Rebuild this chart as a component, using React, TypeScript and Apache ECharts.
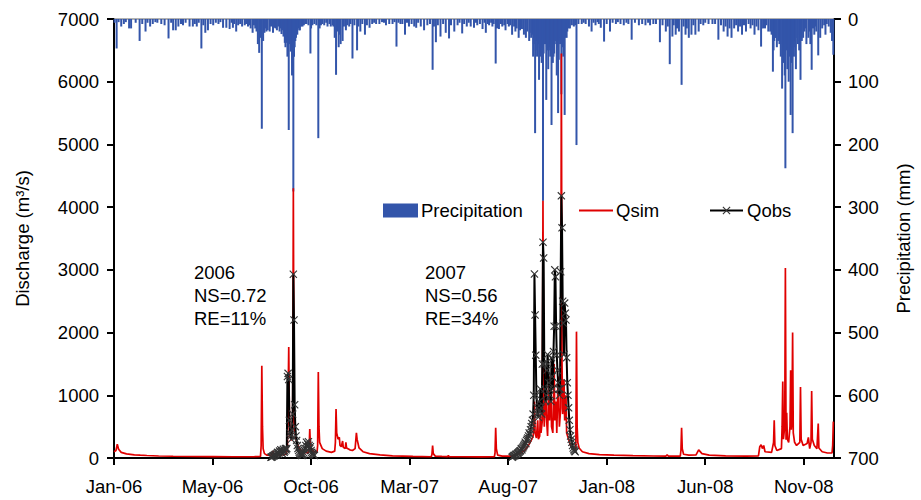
import React, { useEffect, useRef } from "react";
import * as echarts from "echarts";

// ---------- data ----------
const tickLabels = ["Jan-06", "May-06", "Oct-06", "Mar-07", "Aug-07", "Jan-08", "Jun-08", "Nov-08"];
const TICK_STEP_DAYS = 150;
const AXIS_START = Date.UTC(2006, 0, 1);
const AXIS_END_DAY = 1096;

const precipitation: [string, number][] = [
  ["2006-01-02", 6], ["2006-01-05", 47], ["2006-01-08", 5], ["2006-01-12", 12], ["2006-01-16", 8],
  ["2006-01-19", 5], ["2006-01-24", 15], ["2006-01-27", 15], ["2006-02-03", 6], ["2006-02-09", 35],
  ["2006-02-13", 8], ["2006-02-18", 20], ["2006-02-21", 6], ["2006-02-25", 12], ["2006-03-01", 8],
  ["2006-03-05", 5], ["2006-03-08", 6], ["2006-03-14", 8], ["2006-03-19", 10], ["2006-03-25", 31],
  ["2006-03-29", 6], ["2006-04-01", 18], ["2006-04-05", 18], ["2006-04-09", 12], ["2006-04-13", 8],
  ["2006-04-16", 10], ["2006-04-20", 6], ["2006-04-26", 12], ["2006-05-01", 12], ["2006-05-04", 8],
  ["2006-05-07", 12], ["2006-05-10", 6], ["2006-05-14", 47], ["2006-05-17", 10], ["2006-05-20", 22],
  ["2006-05-24", 18], ["2006-05-28", 8], ["2006-06-01", 10], ["2006-06-05", 6], ["2006-06-09", 8],
  ["2006-06-12", 5], ["2006-06-16", 14], ["2006-06-21", 14], ["2006-06-26", 16], ["2006-06-29", 6],
  ["2006-07-01", 14], ["2006-07-03", 8], ["2006-07-06", 20], ["2006-07-09", 10], ["2006-07-12", 8],
  ["2006-07-15", 12], ["2006-07-19", 10], ["2006-07-21", 8], ["2006-07-24", 12], ["2006-07-26", 10],
  ["2006-07-28", 15], ["2006-07-31", 22], ["2006-08-02", 10], ["2006-08-04", 15], ["2006-08-06", 20],
  ["2006-08-08", 40], ["2006-08-10", 54], ["2006-08-12", 30], ["2006-08-14", 175], ["2006-08-16", 35],
  ["2006-08-18", 22], ["2006-08-19", 15], ["2006-08-21", 20], ["2006-08-23", 18], ["2006-08-26", 20],
  ["2006-08-28", 12], ["2006-08-31", 22], ["2006-09-02", 14], ["2006-09-04", 15], ["2006-09-06", 18],
  ["2006-09-08", 12], ["2006-09-10", 20], ["2006-09-11", 15], ["2006-09-13", 24], ["2006-09-15", 18],
  ["2006-09-16", 28], ["2006-09-18", 38], ["2006-09-19", 45], ["2006-09-20", 25], ["2006-09-21", 38],
  ["2006-09-22", 60], ["2006-09-23", 30], ["2006-09-24", 177], ["2006-09-25", 40], ["2006-09-26", 35],
  ["2006-09-27", 52], ["2006-09-28", 45], ["2006-09-29", 90], ["2006-09-30", 70], ["2006-10-01", 275],
  ["2006-10-02", 60], ["2006-10-03", 45], ["2006-10-04", 35], ["2006-10-05", 30], ["2006-10-06", 20],
  ["2006-10-07", 25], ["2006-10-09", 15], ["2006-10-10", 18], ["2006-10-11", 18], ["2006-10-13", 12],
  ["2006-10-15", 12], ["2006-10-17", 10], ["2006-10-19", 8], ["2006-10-21", 8], ["2006-10-24", 10],
  ["2006-10-27", 55], ["2006-10-28", 15], ["2006-10-30", 10], ["2006-11-02", 8], ["2006-11-05", 10],
  ["2006-11-08", 190], ["2006-11-10", 15], ["2006-11-12", 10], ["2006-11-14", 8], ["2006-11-17", 10],
  ["2006-11-20", 6], ["2006-11-22", 12], ["2006-11-25", 8], ["2006-11-27", 12], ["2006-11-30", 10],
  ["2006-12-01", 12], ["2006-12-03", 30], ["2006-12-05", 89], ["2006-12-07", 20], ["2006-12-09", 45],
  ["2006-12-10", 25], ["2006-12-12", 40], ["2006-12-15", 35], ["2006-12-17", 12], ["2006-12-20", 18],
  ["2006-12-22", 10], ["2006-12-25", 12], ["2006-12-27", 8], ["2006-12-30", 63],
  ["2007-01-02", 10], ["2007-01-06", 50], ["2007-01-08", 12], ["2007-01-11", 20], ["2007-01-14", 8],
  ["2007-01-18", 25], ["2007-01-21", 10], ["2007-01-25", 14], ["2007-01-29", 8], ["2007-02-01", 6],
  ["2007-02-04", 8], ["2007-02-09", 8], ["2007-02-13", 5], ["2007-02-16", 6], ["2007-02-19", 10],
  ["2007-02-24", 8], ["2007-03-01", 8], ["2007-03-04", 5], ["2007-03-07", 44], ["2007-03-10", 6],
  ["2007-03-13", 8], ["2007-03-16", 8], ["2007-03-20", 25], ["2007-03-23", 6], ["2007-03-26", 12],
  ["2007-03-30", 8], ["2007-04-03", 12], ["2007-04-06", 14], ["2007-04-09", 6], ["2007-04-13", 12],
  ["2007-04-18", 18], ["2007-04-23", 10], ["2007-04-27", 8], ["2007-05-01", 81], ["2007-05-03", 12],
  ["2007-05-06", 37], ["2007-05-09", 10], ["2007-05-13", 28], ["2007-05-17", 8], ["2007-05-21", 22],
  ["2007-05-26", 31], ["2007-05-29", 10], ["2007-06-03", 20], ["2007-06-08", 10], ["2007-06-11", 6],
  ["2007-06-15", 23], ["2007-06-18", 8], ["2007-06-22", 12], ["2007-06-25", 6], ["2007-06-28", 12],
  ["2007-07-03", 14], ["2007-07-06", 6], ["2007-07-08", 10], ["2007-07-12", 8], ["2007-07-16", 16],
  ["2007-07-19", 6], ["2007-07-21", 22], ["2007-07-24", 8], ["2007-07-26", 10], ["2007-07-29", 6],
  ["2007-07-31", 12], ["2007-08-02", 8], ["2007-08-05", 71], ["2007-08-07", 15], ["2007-08-10", 16],
  ["2007-08-13", 8], ["2007-08-15", 12], ["2007-08-18", 10], ["2007-08-20", 18], ["2007-08-23", 8],
  ["2007-08-25", 12], ["2007-08-27", 10], ["2007-08-30", 25], ["2007-09-02", 12], ["2007-09-04", 20],
  ["2007-09-06", 15], ["2007-09-09", 30], ["2007-09-11", 18], ["2007-09-14", 16], ["2007-09-17", 25],
  ["2007-09-20", 30], ["2007-09-22", 20], ["2007-09-25", 35], ["2007-09-26", 22], ["2007-09-28", 30],
  ["2007-09-30", 25], ["2007-10-01", 60], ["2007-10-02", 40], ["2007-10-03", 30], ["2007-10-04", 182],
  ["2007-10-05", 50], ["2007-10-06", 35], ["2007-10-07", 60], ["2007-10-08", 35], ["2007-10-09", 40],
  ["2007-10-10", 97], ["2007-10-11", 45], ["2007-10-12", 30], ["2007-10-13", 60], ["2007-10-14", 70],
  ["2007-10-15", 45], ["2007-10-16", 290], ["2007-10-17", 55], ["2007-10-18", 35], ["2007-10-19", 40],
  ["2007-10-20", 40], ["2007-10-21", 129], ["2007-10-22", 45], ["2007-10-23", 50], ["2007-10-24", 80],
  ["2007-10-25", 50], ["2007-10-26", 45], ["2007-10-27", 60], ["2007-10-28", 40], ["2007-10-29", 169],
  ["2007-10-30", 45], ["2007-10-31", 70], ["2007-11-01", 60], ["2007-11-02", 55], ["2007-11-03", 40],
  ["2007-11-04", 35], ["2007-11-05", 30], ["2007-11-06", 90], ["2007-11-07", 45], ["2007-11-08", 150],
  ["2007-11-09", 65], ["2007-11-10", 35], ["2007-11-11", 40], ["2007-11-12", 30], ["2007-11-13", 120],
  ["2007-11-14", 35], ["2007-11-15", 45], ["2007-11-16", 60], ["2007-11-17", 30], ["2007-11-18", 153],
  ["2007-11-19", 30], ["2007-11-20", 25], ["2007-11-21", 30], ["2007-11-22", 20], ["2007-11-24", 15],
  ["2007-11-26", 15], ["2007-11-29", 10], ["2007-12-02", 12], ["2007-12-04", 10], ["2007-12-06", 201],
  ["2007-12-09", 8], ["2007-12-14", 8], ["2007-12-17", 6], ["2007-12-20", 8], ["2007-12-25", 12],
  ["2007-12-29", 20],
  ["2008-01-01", 6], ["2008-01-04", 10], ["2008-01-07", 5], ["2008-01-09", 8], ["2008-01-12", 14],
  ["2008-01-17", 36], ["2008-01-21", 8], ["2008-01-26", 20], ["2008-01-30", 6], ["2008-02-04", 8],
  ["2008-02-07", 5], ["2008-02-11", 8], ["2008-02-16", 10], ["2008-02-20", 6], ["2008-02-23", 8],
  ["2008-02-28", 33], ["2008-03-04", 6], ["2008-03-10", 10], ["2008-03-15", 8], ["2008-03-20", 10],
  ["2008-03-24", 6], ["2008-03-27", 10], ["2008-04-01", 8], ["2008-04-05", 8], ["2008-04-11", 37],
  ["2008-04-15", 10], ["2008-04-20", 20], ["2008-04-23", 12], ["2008-04-26", 72], ["2008-04-30", 28],
  ["2008-05-02", 10], ["2008-05-05", 25], ["2008-05-07", 15], ["2008-05-10", 20], ["2008-05-14", 105],
  ["2008-05-17", 12], ["2008-05-20", 25], ["2008-05-22", 15], ["2008-05-25", 30], ["2008-05-29", 25],
  ["2008-06-01", 10], ["2008-06-04", 25], ["2008-06-09", 20], ["2008-06-12", 8], ["2008-06-16", 10],
  ["2008-06-19", 6], ["2008-06-24", 8], ["2008-06-30", 8], ["2008-07-04", 8], ["2008-07-09", 33],
  ["2008-07-13", 10], ["2008-07-17", 20], ["2008-07-20", 12], ["2008-07-23", 28], ["2008-07-26", 15],
  ["2008-07-29", 30], ["2008-08-02", 15], ["2008-08-05", 10], ["2008-08-08", 20], ["2008-08-11", 12],
  ["2008-08-14", 25], ["2008-08-17", 10], ["2008-08-20", 20], ["2008-08-24", 8], ["2008-08-27", 15],
  ["2008-08-30", 10], ["2008-09-02", 25], ["2008-09-05", 12], ["2008-09-08", 18], ["2008-09-12", 44],
  ["2008-09-15", 15], ["2008-09-18", 15], ["2008-09-20", 10], ["2008-09-23", 20], ["2008-09-26", 20],
  ["2008-09-28", 25], ["2008-09-30", 84], ["2008-10-01", 50], ["2008-10-02", 35], ["2008-10-03", 30],
  ["2008-10-04", 30], ["2008-10-06", 45], ["2008-10-08", 35], ["2008-10-09", 25], ["2008-10-10", 40],
  ["2008-10-11", 30], ["2008-10-12", 60], ["2008-10-14", 111], ["2008-10-15", 40], ["2008-10-16", 70],
  ["2008-10-18", 90], ["2008-10-19", 238], ["2008-10-20", 50], ["2008-10-21", 40], ["2008-10-22", 80],
  ["2008-10-23", 45], ["2008-10-24", 100], ["2008-10-25", 35], ["2008-10-26", 60], ["2008-10-27", 153],
  ["2008-10-28", 45], ["2008-10-29", 70], ["2008-10-30", 182], ["2008-10-31", 40], ["2008-11-01", 60],
  ["2008-11-02", 35], ["2008-11-03", 45], ["2008-11-04", 80], ["2008-11-06", 30], ["2008-11-07", 40],
  ["2008-11-09", 50], ["2008-11-10", 25], ["2008-11-11", 97], ["2008-11-13", 35], ["2008-11-15", 30],
  ["2008-11-17", 20], ["2008-11-19", 15], ["2008-11-20", 40], ["2008-11-23", 30], ["2008-11-25", 20],
  ["2008-11-26", 40], ["2008-11-28", 81], ["2008-11-30", 15], ["2008-12-02", 25], ["2008-12-04", 12],
  ["2008-12-05", 20], ["2008-12-08", 58], ["2008-12-11", 30], ["2008-12-14", 15], ["2008-12-17", 10],
  ["2008-12-19", 25], ["2008-12-21", 8], ["2008-12-24", 12], ["2008-12-27", 22], ["2008-12-29", 35],
  ["2008-12-31", 57],
];

const qsim: [string, number][] = [
  ["2006-01-01", 100], ["2006-01-04", 120], ["2006-01-06", 220], ["2006-01-08", 140], ["2006-01-12", 90],
  ["2006-01-20", 65], ["2006-02-01", 50], ["2006-02-10", 45], ["2006-02-20", 40], ["2006-03-10", 32],
  ["2006-04-01", 28], ["2006-05-01", 24], ["2006-06-01", 22], ["2006-07-01", 20], ["2006-08-01", 20],
  ["2006-08-12", 25], ["2006-08-13", 200], ["2006-08-14", 1470], ["2006-08-15", 500], ["2006-08-16", 150],
  ["2006-08-18", 70], ["2006-08-22", 45], ["2006-08-28", 40], ["2006-08-31", 110], ["2006-09-01", 60],
  ["2006-09-10", 45], ["2006-09-20", 60], ["2006-09-22", 150], ["2006-09-24", 1770], ["2006-09-25", 600],
  ["2006-09-26", 350], ["2006-09-28", 280], ["2006-09-30", 500], ["2006-10-01", 4300], ["2006-10-02", 900],
  ["2006-10-03", 450], ["2006-10-05", 300], ["2006-10-08", 200], ["2006-10-12", 130], ["2006-10-18", 90],
  ["2006-10-24", 80], ["2006-10-25", 150], ["2006-10-26", 460], ["2006-10-27", 200], ["2006-10-30", 110],
  ["2006-11-06", 90], ["2006-11-07", 200], ["2006-11-08", 1370], ["2006-11-09", 500], ["2006-11-10", 250],
  ["2006-11-14", 150], ["2006-11-20", 110], ["2006-11-28", 90], ["2006-12-03", 110], ["2006-12-04", 250],
  ["2006-12-05", 780], ["2006-12-06", 400], ["2006-12-08", 300], ["2006-12-10", 330], ["2006-12-11", 200],
  ["2006-12-13", 180], ["2006-12-15", 270], ["2006-12-16", 170], ["2006-12-19", 150], ["2006-12-20", 250],
  ["2006-12-21", 160], ["2006-12-26", 130], ["2006-12-30", 120], ["2007-01-03", 150], ["2007-01-05", 400],
  ["2007-01-06", 300], ["2007-01-09", 160], ["2007-01-15", 100], ["2007-01-25", 70], ["2007-02-10", 50],
  ["2007-03-01", 35], ["2007-04-01", 25], ["2007-04-29", 20], ["2007-04-30", 60], ["2007-05-01", 200],
  ["2007-05-02", 70], ["2007-05-05", 30], ["2007-05-15", 25], ["2007-05-24", 22], ["2007-05-25", 40],
  ["2007-05-26", 22], ["2007-06-15", 20], ["2007-07-15", 18], ["2007-08-03", 20], ["2007-08-04", 80],
  ["2007-08-05", 480], ["2007-08-06", 150], ["2007-08-08", 45], ["2007-08-15", 30], ["2007-08-28", 30],
  ["2007-09-05", 50], ["2007-09-12", 80], ["2007-09-18", 120], ["2007-09-24", 200], ["2007-09-28", 280],
  ["2007-10-01", 350], ["2007-10-02", 500], ["2007-10-03", 900], ["2007-10-04", 400], ["2007-10-06", 320],
  ["2007-10-08", 600], ["2007-10-09", 300], ["2007-10-11", 350], ["2007-10-12", 700], ["2007-10-13", 400],
  ["2007-10-15", 600], ["2007-10-16", 4100], ["2007-10-17", 900], ["2007-10-18", 500], ["2007-10-20", 1400],
  ["2007-10-21", 700], ["2007-10-23", 350], ["2007-10-25", 1300], ["2007-10-26", 600], ["2007-10-28", 1200],
  ["2007-10-29", 500], ["2007-10-31", 400], ["2007-11-02", 1500], ["2007-11-03", 600], ["2007-11-05", 900],
  ["2007-11-06", 400], ["2007-11-08", 1300], ["2007-11-10", 500], ["2007-11-12", 800], ["2007-11-13", 6450],
  ["2007-11-14", 1500], ["2007-11-15", 700], ["2007-11-17", 1250], ["2007-11-18", 600], ["2007-11-20", 1000],
  ["2007-11-21", 400], ["2007-11-24", 300], ["2007-11-27", 200], ["2007-12-01", 150], ["2007-12-05", 130],
  ["2007-12-06", 2015], ["2007-12-07", 500], ["2007-12-08", 250], ["2007-12-10", 160], ["2007-12-15", 100],
  ["2007-12-25", 70], ["2008-01-10", 55], ["2008-02-01", 45], ["2008-03-01", 38], ["2008-04-01", 32],
  ["2008-04-20", 30], ["2008-04-22", 50], ["2008-04-24", 30], ["2008-05-12", 30], ["2008-05-13", 120],
  ["2008-05-14", 480], ["2008-05-15", 150], ["2008-05-17", 60], ["2008-05-25", 45], ["2008-06-05", 50],
  ["2008-06-09", 130], ["2008-06-14", 70], ["2008-06-25", 45], ["2008-07-20", 35], ["2008-08-20", 30],
  ["2008-09-08", 35], ["2008-09-10", 180], ["2008-09-12", 210], ["2008-09-14", 150], ["2008-09-16", 200],
  ["2008-09-18", 100], ["2008-09-28", 90], ["2008-10-01", 250], ["2008-10-02", 600], ["2008-10-03", 200],
  ["2008-10-06", 120], ["2008-10-13", 150], ["2008-10-14", 500], ["2008-10-15", 1220], ["2008-10-16", 300],
  ["2008-10-18", 500], ["2008-10-19", 3030], ["2008-10-20", 290], ["2008-10-21", 720], ["2008-10-22", 300],
  ["2008-10-24", 250], ["2008-10-26", 500], ["2008-10-27", 1400], ["2008-10-28", 450], ["2008-10-29", 600],
  ["2008-10-30", 2000], ["2008-10-31", 400], ["2008-11-02", 250], ["2008-11-05", 200], ["2008-11-10", 250],
  ["2008-11-11", 1130], ["2008-11-12", 300], ["2008-11-15", 200], ["2008-11-21", 230], ["2008-11-23", 330],
  ["2008-11-25", 150], ["2008-11-27", 250], ["2008-11-28", 1070], ["2008-11-29", 300], ["2008-12-02", 200],
  ["2008-12-06", 150], ["2008-12-08", 550], ["2008-12-09", 160], ["2008-12-14", 100], ["2008-12-22", 80],
  ["2008-12-29", 80], ["2008-12-30", 200], ["2008-12-31", 580],
];

const qobs2006Start = "2006-08-28";
const qobs2006 = [
  10, 15, 20, 30,
  40, 35, 50, 60, 45, 70, 90, 60, 80, 110,
  90, 130, 100, 70, 120, 140, 90, 110, 150, 130,
  150, 1300, 1350, 1250, 600, 400, 350, 300, 450, 700,
  2930, 2200, 850, 500, 350, 280, 200, 150, 120, 90,
  70, 60, 50, 40, 60, 50, 80, 120, 150, 200,
  250, 180, 220, 260, 200, 150, 180, 120, 90, 70, 60,
  50, 40,
];

const qobs2007Start = "2007-08-30";
const qobs2007 = [
  10, 20,
  30, 40, 35, 50, 60, 55, 70, 80, 90, 100,
  110, 120, 150, 130, 160, 180, 200, 220, 250, 230,
  280, 300, 320, 350, 400, 380, 450, 500, 550, 600,
  700, 1000, 2935, 2280, 1640, 1000, 800, 700, 650, 900,
  750, 1100, 800, 700, 1500, 3440, 3190, 1500, 1100, 900,
  1000, 1400, 1650, 1500, 1200, 1100, 1000, 900, 1600, 1300, 1100,
  1700, 2100, 3000, 2890, 2100, 1640, 1400, 1200, 1100, 1000,
  1100, 2970, 4180, 3670, 2500, 2150, 1650, 2470, 2310, 2200,
  1600, 1200, 1000, 800, 600, 450, 350, 300, 250, 200,
  160, 130, 110, 100,
];

const note2006 = ["2006", "NS=0.72", "RE=11%"];
const note2007 = ["2007", "NS=0.56", "RE=34%"];

// ---------- helpers ----------
const DAY_MS = 86400000;
function dayOf(s: string): number {
  const [y, m, d] = s.split("-").map(Number);
  return Math.round((Date.UTC(y, m - 1, d) - AXIS_START) / DAY_MS);
}
function dailySeries(start: string, vals: number[]): [number, number][] {
  const d0 = dayOf(start);
  return vals.map((v, i) => [d0 + i, v]);
}

const FONT = '"Liberation Sans", Arial, sans-serif';
const FONT_SIZE = 18.5;
const X_PATH =
  "path://M1,0 L5,4 L9,0 L10,1 L6,5 L10,9 L9,10 L5,6 L1,10 L0,9 L4,5 L0,1 Z";
const RED = "#E00000";
const BLUE = "#3355AA";

export default function App() {
  const ref = useRef<HTMLDivElement>(null);

  useEffect(() => {
    if (!ref.current) return;
    const chart = echarts.init(ref.current, undefined, { renderer: "svg" });

    const precipData = precipitation.map(([d, v]) => [dayOf(d), v]);
    const qsimData = qsim.map(([d, v]) => [dayOf(d), v]);
    const o6 = dailySeries(qobs2006Start, qobs2006);
    const o7 = dailySeries(qobs2007Start, qobs2007);
    const qobsData: any[] = [...o6, [o6[o6.length - 1][0] + 1, null], ...o7];
    const tickValues = tickLabels.map((_, i) => i * TICK_STEP_DAYS);

    const axisText = { fontSize: FONT_SIZE, fontFamily: FONT, color: "#000" };
    const blackLine = { color: "#000", width: 2 };

    chart.setOption({
      animation: false,
      grid: { left: 114, right: 84, top: 19, bottom: 42 },
      xAxis: [
        {
          type: "value",
          min: 0,
          max: AXIS_END_DAY,
          position: "bottom",
          axisLine: { show: true, onZero: false, lineStyle: blackLine },
          axisTick: { show: true, inside: false, length: 7, lineStyle: blackLine, customValues: tickValues },
          axisLabel: {
            ...axisText,
            margin: 19,
            customValues: tickValues,
            formatter: (v: number) => tickLabels[Math.round(v / TICK_STEP_DAYS)] ?? "",
          },
          splitLine: { show: false },
        },
        {
          type: "value",
          min: 0,
          max: AXIS_END_DAY,
          position: "top",
          axisLine: { show: true, onZero: false, lineStyle: { color: "#999", width: 1.5 } },
          axisTick: { show: false },
          axisLabel: { show: false },
          splitLine: { show: false },
        },
      ],
      yAxis: [
        {
          type: "value",
          min: 0,
          max: 7000,
          interval: 1000,
          position: "left",
          name: "Discharge (m³/s)",
          nameLocation: "middle",
          nameRotate: 90,
          nameGap: 82,
          nameTextStyle: axisText,
          axisLine: { show: true, onZero: false, lineStyle: blackLine },
          axisTick: { show: true, inside: false, length: 7, lineStyle: blackLine },
          axisLabel: { ...axisText, margin: 15, formatter: (v: number) => String(v) },
          splitLine: { show: false },
        },
        {
          type: "value",
          min: 0,
          max: 700,
          interval: 100,
          inverse: true,
          position: "right",
          name: "Precipitation (mm)",
          nameLocation: "middle",
          nameRotate: 90,
          nameGap: 60,
          nameTextStyle: axisText,
          axisLine: { show: true, onZero: false, lineStyle: blackLine },
          axisTick: { show: true, inside: false, length: 7, lineStyle: blackLine },
          axisLabel: { ...axisText, margin: 14, formatter: (v: number) => String(v) },
          splitLine: { show: false },
        },
      ],
      legend: [
        {
          data: [{ name: "Precipitation", icon: "rect" }],
          left: 383,
          top: 201,
          padding: 0,
          itemWidth: 35,
          itemHeight: 14,
          textStyle: { ...axisText, padding: [0, 0, 0, -2] },
        },
        {
          data: [{ name: "Qsim", icon: "rect", itemStyle: { color: RED } }],
          left: 579,
          top: 201,
          padding: 0,
          itemWidth: 34,
          itemHeight: 2,
          textStyle: { ...axisText, padding: [0, 0, 0, -2] },
        },
        {
          data: ["Qobs"],
          left: 709,
          top: 201,
          padding: 0,
          itemWidth: 33,
          itemHeight: 10,
          lineStyle: { width: 2, color: "#000" },
          textStyle: { ...axisText, padding: [0, 0, 0, -1] },
        },
      ],
      graphic: [
        {
          type: "text",
          left: 194,
          top: 261,
          style: { text: note2006.join("\n"), font: `${FONT_SIZE}px ${FONT}`, lineHeight: 23, fill: "#000" },
        },
        {
          type: "text",
          left: 425,
          top: 261,
          style: { text: note2007.join("\n"), font: `${FONT_SIZE}px ${FONT}`, lineHeight: 23, fill: "#000" },
        },
      ],
      series: [
        {
          name: "Precipitation",
          type: "bar",
          xAxisIndex: 0,
          yAxisIndex: 1,
          data: precipData,
          barWidth: 2,
          itemStyle: { color: BLUE },
        },
        {
          name: "Qsim",
          type: "line",
          xAxisIndex: 0,
          yAxisIndex: 0,
          data: qsimData,
          symbol: "none",
          lineStyle: { color: RED, width: 1.7 },
          itemStyle: { color: RED },
        },
        {
          name: "Qobs",
          type: "line",
          xAxisIndex: 0,
          yAxisIndex: 0,
          data: qobsData,
          connectNulls: false,
          symbol: X_PATH,
          symbolSize: 8,
          showSymbol: true,
          showAllSymbol: true,
          lineStyle: { color: "#000", width: 2 },
          itemStyle: { color: "#333" },
        },
      ],
    });

    return () => chart.dispose();
  }, []);

  return (
    <div
      ref={ref}
      style={{ position: "fixed", left: 0, top: 0, width: 921, height: 500, background: "#fff" }}
    />
  );
}
